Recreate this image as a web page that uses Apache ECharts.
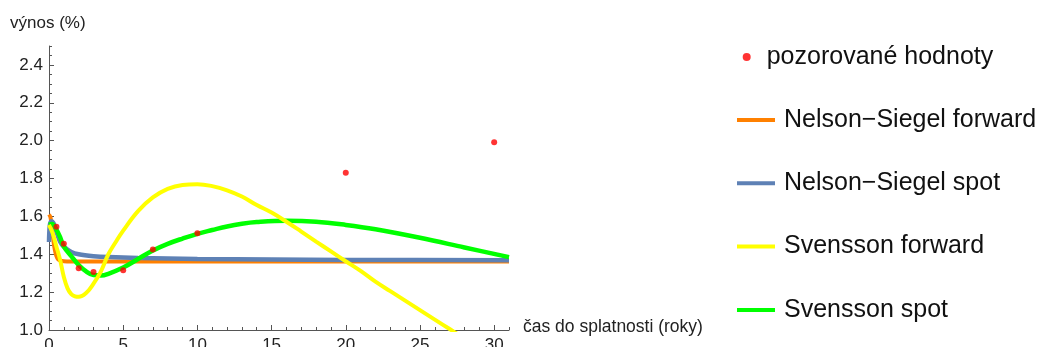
<!DOCTYPE html>
<html>
<head>
<meta charset="utf-8">
<script src="https://cdn.jsdelivr.net/npm/echarts@6/dist/echarts.min.js"></script>
<style>
html,body{margin:0;padding:0;background:#fff;}
#c{width:1037px;height:347px;}
</style>
</head>
<body>
<div id="c"></div>
<script>
// ---- data ----
var seriesNames = ['pozorované hodnoty', 'Nelson\u2212Siegel forward', 'Nelson\u2212Siegel spot', 'Svensson forward', 'Svensson spot'];
var xTicks = [0, 5, 10, 15, 20, 25, 30];
var yTicks = [1.0, 1.2, 1.4, 1.6, 1.8, 2.0, 2.2, 2.4];

var obsT = [0.5, 1, 2, 3, 5, 7, 10, 20, 30];
var obsY = [1.545, 1.455, 1.326, 1.306, 1.316, 1.425, 1.511, 1.831, 1.992];

var nsForwardT = [0, 0.1, 0.2, 0.3, 0.4, 0.5, 0.6, 0.8, 1, 1.5, 2, 5, 10, 20, 31];
var nsForwardY = [1.61, 1.595, 1.54, 1.47, 1.42, 1.39, 1.375, 1.366, 1.363, 1.362, 1.362, 1.362, 1.362, 1.362, 1.362];

var nsSpotT = [0, 0.05, 0.15, 0.3, 0.5, 0.75, 1, 1.5, 2, 3, 4, 6, 10, 15, 20, 31];
var nsSpotY = [1.465, 1.55, 1.575, 1.565, 1.52, 1.466, 1.44, 1.412, 1.4, 1.39, 1.385, 1.38, 1.375, 1.372, 1.37, 1.369];

var svForwardT = [0, 0.25, 0.5, 0.75, 1, 1.25, 1.5, 1.75, 2, 2.5, 3, 3.5, 4, 4.5, 5, 6, 7, 8, 9, 10, 11, 12, 13, 14, 15, 16, 17, 18, 19, 20, 21, 22, 23, 24, 25, 26, 27, 28];
var svForwardY = [1.555, 1.51, 1.44, 1.37, 1.28, 1.22, 1.19, 1.178, 1.175, 1.195, 1.245, 1.31, 1.40, 1.465, 1.525, 1.628, 1.70, 1.745, 1.766, 1.77, 1.76, 1.738, 1.705, 1.66, 1.62, 1.572, 1.52, 1.467, 1.415, 1.363, 1.312, 1.255, 1.205, 1.155, 1.105, 1.055, 1.005, 0.955];

var svSpotT = [0, 0.2, 0.5, 0.75, 1, 1.5, 2, 2.5, 3, 3.5, 4, 5, 6, 7, 8, 9, 10, 11, 12, 13, 14, 16, 18, 20, 22, 25, 28, 31];
var svSpotY = [1.555, 1.56, 1.53, 1.49, 1.44, 1.39, 1.343, 1.31, 1.29, 1.288, 1.297, 1.33, 1.375, 1.42, 1.455, 1.483, 1.508, 1.528, 1.547, 1.561, 1.57, 1.577, 1.572, 1.555, 1.532, 1.487, 1.436, 1.385];

function pairs(t, y) { return t.map(function (v, i) { return [v, y[i]]; }); }

var FONT = "'Liberation Sans', Arial, sans-serif";
var colors = ['#ff0000', '#ff8000', '#5e81b5', '#ffff00', '#00ff00'];

var chart = echarts.init(document.getElementById('c'), null, { renderer: 'canvas' });

var axisCommon = {
  type: 'value',
  splitLine: { show: false }
};

chart.setOption({
  animation: false,
  backgroundColor: '#ffffff',
  textStyle: { fontFamily: FONT },
  grid: { left: 49, right: 528, top: 46, bottom: 17, containLabel: false, outerBoundsMode: 'none' },
  xAxis: [
    Object.assign({}, axisCommon, {
      min: 0, max: 31, interval: 5, position: 'bottom',
      axisLine: { show: true, lineStyle: { color: '#555', width: 1 } },
      axisTick: { show: true, inside: true, length: 5, lineStyle: { color: '#555' } },
      axisLabel: { show: true, fontSize: 17, color: '#222', fontFamily: FONT, margin: 7, showMaxLabel: false,
        formatter: function (v) { return xTicks.indexOf(v) >= 0 ? String(v) : ''; } }
    }),
    Object.assign({}, axisCommon, {
      min: 0, max: 31, interval: 1, position: 'bottom',
      axisLine: { show: false },
      axisTick: { show: true, inside: true, length: 3, lineStyle: { color: '#555' } },
      axisLabel: { show: false }
    })
  ],
  yAxis: [
    Object.assign({}, axisCommon, {
      min: 1.0, max: 2.5, interval: 0.2, position: 'left',
      axisLine: { show: true, lineStyle: { color: '#555', width: 1 } },
      axisTick: { show: true, inside: true, length: 5, lineStyle: { color: '#555' } },
      axisLabel: { show: true, fontSize: 17, color: '#222', fontFamily: FONT, margin: 6, showMaxLabel: false,
        formatter: function (v) {
          for (var i = 0; i < yTicks.length; i++) { if (Math.abs(yTicks[i] - v) < 1e-6) return yTicks[i].toFixed(1); }
          return '';
        } }
    }),
    Object.assign({}, axisCommon, {
      min: 1.0, max: 2.5, interval: 0.05, position: 'left',
      axisLine: { show: false },
      axisTick: { show: true, inside: true, length: 3, lineStyle: { color: '#555' } },
      axisLabel: { show: false }
    })
  ],
  legend: [
    {
      orient: 'vertical', left: 737.7, top: 37,
      data: [{ name: seriesNames[0], icon: 'circle' }],
      itemWidth: 8, itemHeight: 8,
      textStyle: { fontSize: 25, color: '#111', fontFamily: FONT, lineHeight: 30, padding: [0, 0, 0, 11] },
      selectedMode: false
    },
    {
      orient: 'vertical', left: 732, top: 100, itemGap: 33.3,
      data: seriesNames.slice(1).map(function (n) { return { name: n, icon: 'rect' }; }),
      itemWidth: 38, itemHeight: 4,
      textStyle: { fontSize: 25, color: '#111', fontFamily: FONT, lineHeight: 30, padding: [0, 0, 0, 4] },
      selectedMode: false
    }
  ],
  graphic: [
    { type: 'text', left: 10, top: 15, style: { text: 'výnos (%)', fontSize: 17, fill: '#222', fontFamily: FONT } },
    { type: 'text', left: 523, top: 318, style: { text: 'čas do splatnosti (roky)', fontSize: 17.5, fill: '#222', fontFamily: FONT } }
  ],
  series: [
    { name: seriesNames[1], type: 'line', data: pairs(nsForwardT, nsForwardY), showSymbol: false, symbol: 'none', smooth: 0.3,
      lineStyle: { color: colors[1], width: 4 }, itemStyle: { color: colors[1] }, z: 2 },
    { name: seriesNames[2], type: 'line', data: pairs(nsSpotT, nsSpotY), showSymbol: false, symbol: 'none', smooth: 0.3,
      lineStyle: { color: colors[2], width: 4.5 }, itemStyle: { color: colors[2] }, z: 3 },
    { name: seriesNames[4], type: 'line', data: pairs(svSpotT, svSpotY), showSymbol: false, symbol: 'none', smooth: 0.4,
      lineStyle: { color: colors[4], width: 4.5 }, itemStyle: { color: colors[4] }, z: 4 },
    { name: seriesNames[3], type: 'line', data: pairs(svForwardT, svForwardY), showSymbol: false, symbol: 'none', smooth: 0.4,
      lineStyle: { color: colors[3], width: 4 }, itemStyle: { color: colors[3] }, z: 5 },
    { name: seriesNames[0], type: 'scatter', data: pairs(obsT, obsY), symbol: 'circle', symbolSize: 6,
      itemStyle: { color: colors[0] }, z: 6 }
  ]
});
</script>
</body>
</html>
